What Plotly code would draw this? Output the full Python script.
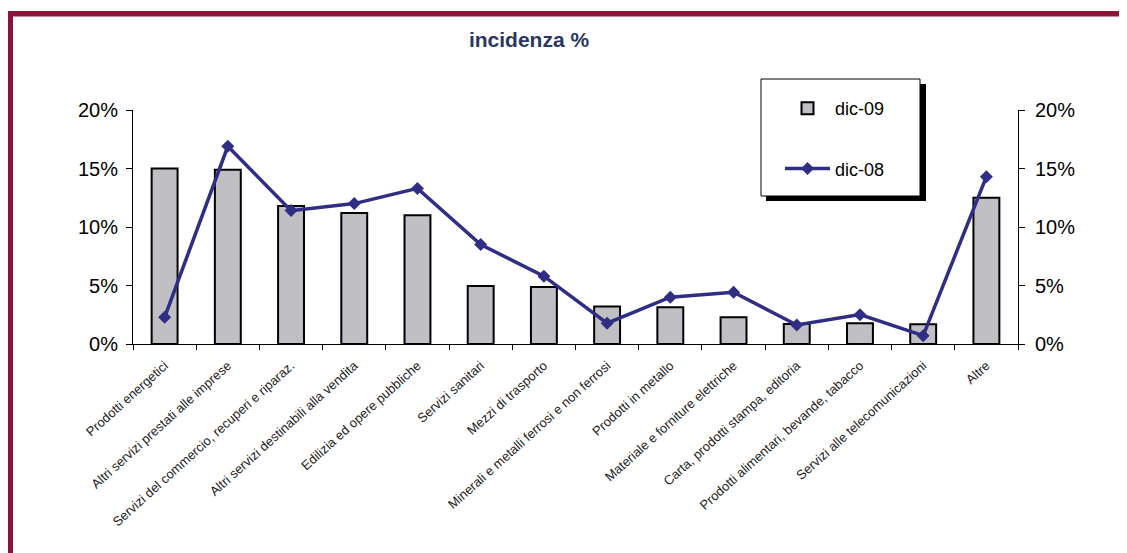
import plotly.graph_objects as go

categories = [
    "Prodotti energetici",
    "Altri servizi prestati alle imprese",
    "Servizi del commercio, recuperi e riparaz.",
    "Altri servizi destinabili alla vendita",
    "Edilizia ed opere pubbliche",
    "Servizi sanitari",
    "Mezzi di trasporto",
    "Minerali e metalli ferrosi e non ferrosi",
    "Prodotti in metallo",
    "Materiale e forniture elettriche",
    "Carta, prodotti stampa, editoria",
    "Prodotti alimentari, bevande, tabacco",
    "Servizi alle telecomunicazioni",
    "Altre",
]
dic09 = [0.150, 0.149, 0.118, 0.112, 0.110, 0.0495, 0.0487, 0.032, 0.0314, 0.0229, 0.0171, 0.0177, 0.0169, 0.125]
dic08 = [0.0228, 0.169, 0.114, 0.120, 0.133, 0.085, 0.058, 0.0178, 0.040, 0.0443, 0.0163, 0.0251, 0.0071, 0.143]
y_ticks = [0, 0.05, 0.10, 0.15, 0.20]

# the page body adds an 8px margin: work in screen coords, convert to figure coords
OFF = 8
W, H = 1127 - OFF, 553 - OFF
PLOT_L, PLOT_R, PLOT_T, PLOT_B = 133, 1018, 110, 344   # screen coords of the plot area
L = PLOT_L - OFF
T = PLOT_T - OFF
R = W - (PLOT_R - OFF)
B = H - (PLOT_B - OFF)
PW, PH = PLOT_R - PLOT_L, PLOT_B - PLOT_T

def px_x(x):
    return (x - PLOT_L) / PW

def px_y(y):
    return (PLOT_B - y) / PH

FONT = "Arial, Liberation Sans, sans-serif"
BAR_COLOR = "#BFBFC4"
LINE_COLOR = "#2F2D84"
BORDER = "#8A1538"

fig = go.Figure()
fig.add_trace(go.Bar(
    x=categories, y=dic09, name="dic-09", legendgroup="a",
    marker=dict(color=BAR_COLOR, line=dict(color="black", width=2)),
    width=0.41, xaxis="x", yaxis="y",
))
fig.add_trace(go.Scatter(
    x=categories, y=dic08, name="dic-08", legendgroup="b",
    mode="lines+markers",
    line=dict(color=LINE_COLOR, width=3.5),
    marker=dict(symbol="diamond", size=10, color=LINE_COLOR),
    xaxis="x", yaxis="y2",
))

yax_common = dict(range=[0, 0.2], tickvals=y_ticks, tickformat=".0%",
                  showgrid=False, zeroline=False,
                  tickfont=dict(family=FONT, size=20, color="black"))

fig.update_layout(
    width=W, height=H,
    margin=dict(l=L, r=R, t=T, b=B),
    paper_bgcolor="white", plot_bgcolor="white",
    showlegend=True,
    title=dict(text="<b>incidenza %</b>", font=dict(family=FONT, size=21, color="#2B3763"),
               x=px_x(529), xref="paper", xanchor="center",
               y=1 - (40 - OFF) / H, yref="container", yanchor="middle"),
    xaxis=dict(type="category", categoryorder="array", categoryarray=categories,
               range=[-0.5, 13.5],
               tickson="boundaries", ticks="outside", ticklen=5, tickcolor="black",
               showline=True, linecolor="black", linewidth=1,
               tickangle=-42, ticklabelstandoff=8,
               tickfont=dict(family=FONT, size=13, color="#222222"),
               showgrid=False, zeroline=False),
    xaxis2=dict(overlaying="x", anchor="y", side="bottom", range=[-0.5, 13.5],
                tickmode="linear", tick0=-0.5, dtick=1, ticks="inside", ticklen=5,
                tickcolor="black", showticklabels=False, showgrid=False,
                showline=False, zeroline=False),
    yaxis=dict(**yax_common, side="left", ticks="outside", ticklen=6, tickcolor="black",
               ticklabelstandoff=4,
               showline=True, linecolor="black", linewidth=1),
    yaxis2=dict(**yax_common, side="right", overlaying="y", ticks="outside", ticklen=6,
                ticklabelstandoff=6,
                tickcolor="black", showline=True, linecolor="black", linewidth=1),
    yaxis3=dict(range=[0, 0.2], tickvals=y_ticks, side="left", overlaying="y", anchor="x",
                ticks="inside", ticklen=6, tickcolor="black", showticklabels=False,
                showgrid=False, zeroline=False, showline=False),
    yaxis4=dict(range=[0, 0.2], tickvals=y_ticks, side="right", overlaying="y", anchor="x",
                ticks="inside", ticklen=6, tickcolor="black", showticklabels=False,
                showgrid=False, zeroline=False, showline=False),
    legend=dict(x=px_x(780), y=px_y(90), xanchor="left", yanchor="top",
                bgcolor="rgba(0,0,0,0)", borderwidth=0,
                font=dict(family=FONT, size=18, color="black"),
                tracegroupgap=34, itemwidth=45),
    shapes=[
        # legend shadow and box
        dict(type="rect", xref="paper", yref="paper",
             x0=px_x(766), x1=px_x(926), y0=px_y(84), y1=px_y(201),
             fillcolor="black", line=dict(width=0), layer="below"),
        dict(type="rect", xref="paper", yref="paper",
             x0=px_x(761), x1=px_x(920), y0=px_y(79), y1=px_y(196),
             fillcolor="white", line=dict(color="black", width=1), layer="below"),
        # page border
        dict(type="rect", xref="paper", yref="paper",
             x0=px_x(7), x1=px_x(1140), y0=px_y(11), y1=px_y(16.5),
             fillcolor=BORDER, line=dict(width=0)),
        dict(type="rect", xref="paper", yref="paper",
             x0=px_x(7), x1=px_x(13), y0=px_y(11), y1=px_y(570),
             fillcolor=BORDER, line=dict(width=0)),
    ],
)

fig.write_html("out.html")
